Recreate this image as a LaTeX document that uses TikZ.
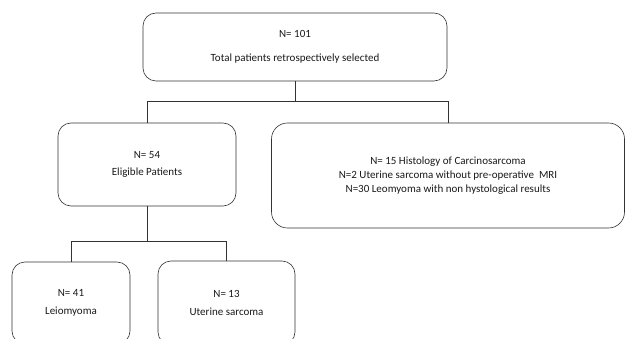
\documentclass[tikz,border=0pt]{standalone}
\usepackage{fontspec}
\setmainfont{Carlito}
\usetikzlibrary{positioning}

\tikzset{
  flowbox/.style={draw=black!80, line width=0.6pt, rounded corners=13pt,
    align=center, font=\fontsize{11}{15}\selectfont, text=black!90,
    inner sep=0pt},
  link/.style={draw=black!80, line width=0.6pt}
}

\begin{document}
\begin{tikzpicture}[x=1pt,y=-1pt]
  \useasboundingbox (0,0) rectangle (626,339);
  \clip (0,0) rectangle (626,339);
  % boxes
  \node[flowbox, minimum width=304pt, minimum height=68pt] (total) at (295,47)
    {N= 101\\[9pt]Total patients retrospectively selected};
  \node[flowbox, minimum width=178pt, minimum height=83pt] (elig) at (147,164.5)
    {N= 54\\[2pt]Eligible Patients};
  \node[flowbox, rounded corners=16pt, minimum width=353pt, minimum height=105pt,
    font=\fontsize{11}{14}\selectfont] (excl) at (448,175.5)
    {N= 15 Histology of Carcinosarcoma\\N=2 Uterine sarcoma without pre-operative\ \ MRI\\N=30 Leomyoma with non hystological results};
  \node[flowbox, minimum width=118pt, minimum height=82pt] (leio) at (71,303)
    {N= 41\\[3pt]Leiomyoma};
  \node[flowbox, minimum width=137pt, minimum height=84pt] (sarc) at (226.5,303)
    {N= 13\\[3pt]Uterine sarcoma};
  % connectors
  \draw[link] (total.south) -- ++(0,20) coordinate (split1);
  \draw[link] (elig.north) |- (split1) -| (excl.north);
  \draw[link] (elig.south) -- ++(0,35) coordinate (split2);
  \draw[link] (leio.north) |- (split2) -| (sarc.north);
\end{tikzpicture}
\end{document}
